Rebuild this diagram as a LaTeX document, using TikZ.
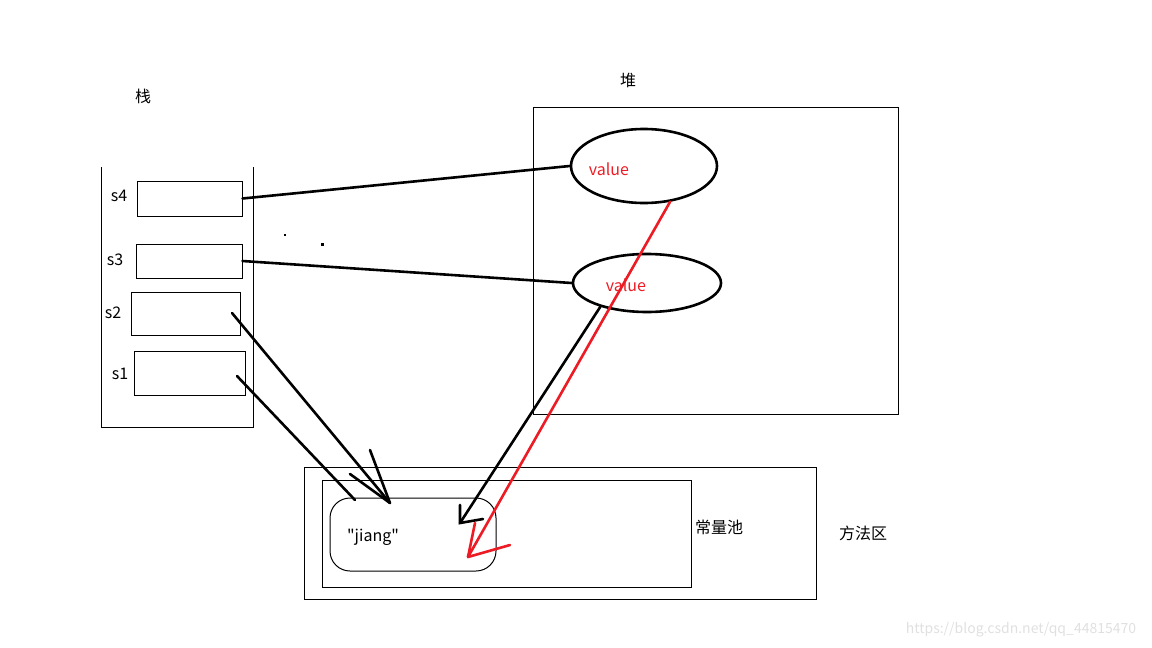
\documentclass[tikz,border=0pt]{standalone}
\usepackage{fontspec}
\setmainfont{Noto Sans CJK SC}[Ligatures=TeXOff]
\usetikzlibrary{shapes.geometric}
\definecolor{paintred}{RGB}{237,28,36}

\begin{document}
\begin{tikzpicture}[
x=1pt, y=-1pt,
box/.style={rectangle, draw, line width=1pt, inner sep=0pt},
blob/.style={ellipse, draw, line width=2.6pt, inner sep=0pt},
lbl/.style={font=\fontsize{16}{18}\selectfont, inner sep=0pt},
hand/.style={line width=2.6pt, line cap=round},
redhand/.style={hand, paintred}
]
\useasboundingbox (0,0) rectangle (1152,648);

% stack
\node[lbl] (stacklbl) at (143,96) {栈};
\draw[line width=1pt] (101,167) |- (253,427) -- (253,167);

\node[box, minimum width=105, minimum height=35] (s4) at (189.5,198.5) {};
\node[box, minimum width=106, minimum height=34] (s3) at (189,261) {};
\node[box, minimum width=109, minimum height=43] (s2) at (185.5,313.5) {};
\node[box, minimum width=111, minimum height=44] (s1) at (189.5,373) {};

\node[lbl] (s4lbl) at (119,196) {s4};
\node[lbl] (s3lbl) at (115,260) {s3};
\node[lbl] (s2lbl) at (113,313) {s2};
\node[lbl] (s1lbl) at (120,374) {s1};

% heap
\node[lbl] (heaplbl) at (628,80) {堆};
\node[box, minimum width=365, minimum height=307] (heap) at (715.5,260.5) {};
\node[blob, minimum width=146, minimum height=74] (ell1) at (644,166) {};
\node[blob, minimum width=148, minimum height=58] (ell2) at (647,283) {};
\node[lbl, text=paintred] (val1) at (609,169) {value};
\node[lbl, text=paintred] (val2) at (626,285) {value};

% method area
\node[box, minimum width=512, minimum height=132] (method) at (560,533) {};
\node[box, minimum width=369, minimum height=107] (pool) at (506.5,533.5) {};
\node[box, rounded corners=20pt, minimum width=166, minimum height=73] (jiang) at (413,534.5) {};
\node[lbl] (jianglbl) at (373,537) {"jiang"};
\node[lbl] (poollbl) at (719,527) {常量池};
\node[lbl] (methodlbl) at (863,533) {方法区};

% stray dots
\fill (284,234) rectangle (286,236);
\fill (321,243) rectangle (324,246);

% end points
\coordinate (s2tail) at (232,313);
\coordinate (s1tail) at (237,376);
\coordinate (s2tip) at (390,503);
\coordinate (s2barbA) at (370,450);
\coordinate (s2barbB) at (350,474);
\coordinate (s1tip) at (355,500);
\coordinate (blktip) at (460,523);
\coordinate (blkbarbA) at (460,505);
\coordinate (blkbarbB) at (483,519);
\coordinate (redtip) at (468,557);
\coordinate (redbarbA) at (475,523);
\coordinate (redbarbB) at (510,545);

\draw[hand] (s4.east) -- (ell1.west);
\draw[hand] (s3.east) -- (ell2.west);

\draw[hand] (s2tail) -- (s2tip);
\draw[hand] (s2barbA) -- (s2tip);
\draw[hand] (s2barbB) -- (s2tip);
\draw[hand] (s1tail) -- (s1tip);

\draw[hand] (ell2.207) -- (blktip);
\draw[hand] (blkbarbA) -- (blktip) -- (blkbarbB);

\draw[redhand] (ell1.-54) -- (redtip);
\draw[redhand] (redbarbA) -- (redtip);
\draw[redhand] (redbarbB) -- (redtip);

\node[font=\fontsize{14}{16}\selectfont, text=black!12, inner sep=0pt] (mark) at (1021,630) {https://blog.csdn.net/qq\_44815470};

\end{tikzpicture}
\end{document}
